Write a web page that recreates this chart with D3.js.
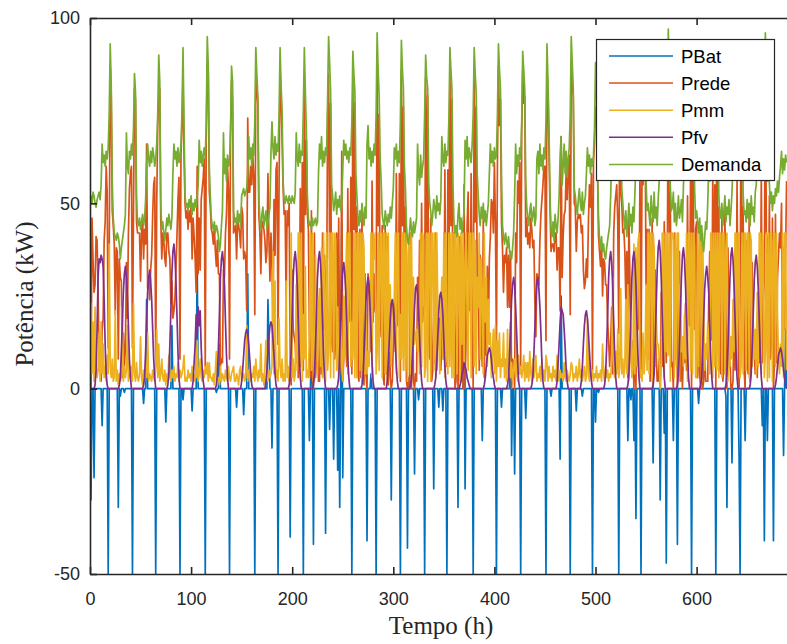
<!DOCTYPE html>
<html>
<head>
<meta charset="utf-8">
<script src="https://cdn.jsdelivr.net/npm/d3@7"></script>
<style>
  html, body { margin: 0; padding: 0; background: #fff; overflow: hidden; }
  text { font-family: "Liberation Sans", Arial, Helvetica, sans-serif; }
</style>
</head>
<body>
<svg id="chart" width="787" height="644"></svg>
<script>
// Hourly power flows (kW), one row per day.
const PBat = [
  0,-30,0,0,-24,0,0,0,0,0,0,0,-10,0,0,0,0,0,-50,0,0,0,0,0,
  0,0,0,0,-32,0,-2,0,0,0,-1,0,0,0,0,0,0,0,-50,0,0,0,0,0,
  0,0,0,0,0,-4,0,0,24,0,0,0,0,0,0,0,0,-50,0,0,0,0,0,0,
  0,0,0,-9,0,0,0,0,0,17,0,0,0,0,0,0,0,-50,0,0,-3,0,0,0,
  0,0,0,0,0,-6,0,0,0,0,35,0,0,0,0,0,0,0,-50,0,0,0,0,0,
  0,0,0,0,0,-1,0,0,12,0,0,0,0,0,0,0,0,0,-50,0,0,0,0,0,
  0,-5,0,0,0,0,0,0,-7,0,0,0,31,0,0,0,0,0,0,-50,0,0,0,0,
  0,0,0,0,0,0,0,0,24,12,0,0,-16,0,0,0,0,0,-50,0,0,0,0,0,
  0,0,0,0,0,0,-40,0,0,0,0,0,0,0,0,0,0,0,0,-50,0,0,0,0,
  0,-14,0,10,0,-42,0,0,0,0,0,0,0,0,0,0,0,-39,0,0,0,-11,0,0,
  0,-19,0,0,0,-22,0,-32,0,45,-24,0,0,0,0,0,0,0,0,-50,0,0,0,0,
  0,0,0,0,0,0,0,0,0,0,-41,0,0,0,4,0,0,0,0,-50,0,0,0,0,
  0,0,0,0,0,0,0,0,0,0,-30,0,0,0,0,0,0,0,0,-50,0,0,0,0,
  0,0,-43,0,0,0,0,0,0,-23,0,0,0,-3,0,0,0,0,0,-50,0,0,0,0,
  0,0,0,0,-27,0,0,0,0,-5,0,0,0,-6,0,0,0,-50,0,0,0,0,0,0,
  0,0,0,0,-32,0,0,0,0,0,19,-27,0,0,0,0,0,0,0,-50,0,0,0,0,
  0,0,0,0,-14,0,0,0,0,0,0,0,0,0,0,0,0,0,-50,0,0,0,0,-5,
  0,0,0,0,0,0,0,0,18,-18,0,0,-23,0,0,0,0,0,-50,0,0,0,0,-8,
  0,0,0,0,0,0,0,0,0,0,0,0,0,0,0,0,0,0,0,-50,0,0,0,0,
  -2,0,0,0,0,0,0,0,0,-19,25,0,0,0,0,0,0,0,0,-50,0,0,0,0,
  0,-6,0,0,0,0,0,-2,0,0,0,0,0,0,0,0,0,-50,0,0,-9,0,0,-1,
  0,0,0,0,0,0,0,0,0,0,0,0,0,0,0,0,0,0,0,-50,0,0,0,0,
  0,0,0,0,-14,0,0,-3,0,0,-14,0,-35,0,0,0,0,-50,0,0,0,0,0,0,
  0,0,0,0,0,-20,0,0,0,0,0,0,-30,0,0,0,-12,0,-47,0,0,0,0,0,
  0,-14,0,0,0,-42,0,0,0,0,0,0,0,0,0,0,0,0,0,-50,0,0,0,0,
  0,0,-4,0,0,0,0,0,0,0,0,0,0,0,0,0,0,0,0,-50,0,0,0,0,
  0,0,0,0,0,-2,-32,0,0,0,0,-20,0,0,0,0,0,0,-18,-50,0,0,0,0,
  -14,0,0,0,0,0,0,0,0,0,0,0,0,0,0,0,0,-10,0,-41,0,0,-14,0,
  0,0,0,0,-41,0,0,0,0,0,0,0,0,0,-18,0,16,0
];

const Prede = [
  43,0,46,35,26,28,41,40,27,5,13,2,16,19,40,45,60,53,11,35,87,79,48,44,
  39,20,38,37,8,35,30,29,3,15,6,11,34,19,42,54,58,60,11,47,81,78,45,42,
  42,42,29,42,46,35,43,39,66,27,30,24,32,36,47,55,57,6,50,71,78,81,46,35,
  42,40,35,33,42,42,37,35,23,29,19,21,24,32,41,51,57,8,63,71,83,63,50,46,
  48,43,48,45,50,35,46,41,35,26,60,31,46,32,51,54,57,62,6,68,88,85,53,49,
  43,42,39,44,37,33,40,31,31,6,8,7,32,30,42,47,60,54,8,68,83,78,42,43,
  44,35,45,44,42,38,49,47,35,37,35,21,73,53,53,60,55,63,57,20,84,81,77,47,
  42,31,45,45,43,40,34,37,58,40,29,42,34,16,51,36,59,61,12,55,86,79,67,54,
  47,48,23,48,44,50,5,1,32,16,14,12,7,31,3,18,54,22,61,5,84,47,67,47,
  43,15,3,48,4,0,42,3,7,14,2,2,22,4,42,16,36,24,21,73,85,35,77,13,
  10,26,8,13,42,7,46,4,14,64,2,8,24,12,6,54,18,23,57,4,83,43,77,16,
  49,4,2,43,3,48,4,1,31,4,0,31,28,24,10,56,18,31,21,20,86,44,74,20,
  14,44,3,1,44,4,41,1,24,3,0,2,12,23,10,58,17,22,58,2,86,44,76,18,
  49,2,0,3,0,42,0,28,2,0,4,2,30,17,40,16,50,18,22,21,84,42,79,14,
  8,46,2,5,19,7,42,5,14,12,19,5,14,30,8,59,18,6,59,31,86,44,78,13,
  42,0,2,37,0,12,41,3,27,0,55,0,14,44,53,22,21,58,24,0,86,45,76,28,
  30,5,36,14,6,46,3,28,9,33,16,35,41,51,50,42,61,45,11,61,87,71,78,45,
  38,26,36,34,38,22,36,22,37,0,8,7,0,42,34,56,50,61,6,69,86,77,79,41,
  46,39,42,38,46,43,38,40,24,14,31,30,28,40,47,51,55,60,60,13,86,81,64,49,
  37,39,39,37,42,42,32,38,38,21,68,30,41,47,48,59,51,59,63,20,88,82,79,50,
  49,37,45,47,46,47,42,44,32,27,29,35,30,45,55,49,58,5,61,66,76,76,58,41,
  37,33,39,25,35,34,28,28,18,13,6,12,22,4,42,49,52,55,45,15,83,53,50,42,
  43,37,24,37,3,47,30,11,13,11,0,14,0,35,18,16,60,3,60,55,86,74,28,43,
  8,43,2,10,46,0,14,32,10,2,2,8,0,26,6,9,45,18,7,33,88,42,53,6,
  7,0,42,8,38,0,9,37,2,12,0,11,7,23,5,52,21,17,57,0,86,40,16,43,
  45,3,32,4,0,41,0,2,11,2,2,2,24,37,13,14,60,15,55,0,83,38,49,5,
  4,47,2,6,48,5,0,38,13,9,0,0,2,20,5,11,56,16,0,17,83,39,49,5,
  0,40,9,4,47,2,11,34,14,10,4,15,3,26,7,12,58,7,23,30,86,42,40,20,
  52,8,13,46,0,8,47,7,30,36,42,38,50,11,38,16,37,56
];

const Pmm = [
  8,23,4,18,2,22,6,3,5,15,2,18,4,12,3,6,2,9,4,39,6,3,8,2,
  3,21,2,5,1,4,2,3,22,2,6,3,5,17,2,4,3,6,2,23,4,2,7,3,
  2,4,14,3,1,5,2,6,3,15,2,4,3,2,5,3,2,6,16,3,12,2,4,8,
  3,2,5,1,4,2,9,3,2,5,3,6,2,4,3,7,2,5,3,4,6,9,2,3,
  2,5,3,4,2,6,3,2,4,3,13,2,4,8,3,2,5,3,6,4,7,2,7,3,
  3,2,4,1,5,10,2,3,1,6,2,4,3,2,5,3,2,6,3,2,4,5,6,2,
  2,4,3,1,5,6,2,3,4,2,3,17,2,5,3,2,4,3,6,2,8,4,2,5,
  3,12,2,4,1,6,13,3,2,5,3,4,6,37,4,29,3,5,2,19,6,3,8,2,
  4,2,29,3,6,2,5,42,3,8,2,4,28,5,42,42,6,42,2,20,8,33,3,5,
  3,15,42,5,42,2,2,36,20,4,22,27,6,38,3,42,24,2,42,5,10,42,3,42,
  42,3,42,40,5,22,2,10,18,6,2,25,8,30,42,4,42,42,6,18,8,42,3,42,
  3,42,42,5,42,2,42,38,4,20,4,10,6,20,42,3,42,35,42,4,10,42,5,42,
  42,3,42,42,4,42,2,42,10,28,6,24,20,25,42,4,42,42,3,20,8,42,5,42,
  5,42,2,36,42,4,42,8,30,12,14,16,10,18,4,42,6,42,40,3,6,42,2,42,
  42,2,42,42,5,42,3,42,22,14,4,20,30,8,42,3,42,8,4,42,6,42,3,42,
  3,42,42,4,42,38,2,42,12,42,6,34,42,20,5,42,42,3,42,42,6,40,4,30,
  22,42,8,35,26,4,42,18,30,6,24,12,15,3,10,16,4,17,2,13,6,15,3,8,
  6,15,3,8,2,16,4,10,3,7,2,5,8,3,12,2,9,4,6,3,5,9,2,7,
  3,7,2,10,4,2,8,3,5,9,2,4,3,6,2,8,3,5,2,9,7,2,6,3,
  4,2,6,3,5,2,9,3,2,5,3,4,2,7,3,2,5,3,2,4,7,6,2,4,
  3,6,2,4,8,3,5,2,4,6,2,3,19,4,2,7,3,5,2,4,3,6,2,4,
  3,5,2,12,4,2,6,3,5,2,4,3,8,30,5,3,10,4,16,3,6,27,4,8,
  3,6,24,4,28,2,8,17,3,5,39,4,38,6,39,42,3,5,2,15,4,8,28,5,
  42,4,42,42,2,42,38,6,20,12,12,8,0,5,42,42,3,42,10,42,9,42,2,42,
  42,40,3,42,6,42,42,2,28,10,14,6,20,8,42,2,42,42,5,42,4,42,38,3,
  3,42,6,42,42,2,42,20,5,12,8,18,12,4,42,42,3,42,6,42,5,42,3,42,
  42,3,42,42,4,38,42,2,20,6,14,8,24,10,42,42,5,42,42,3,6,42,4,42,
  42,5,42,42,3,42,40,6,18,8,16,4,26,6,42,42,4,42,38,3,10,42,2,42,
  3,42,40,2,42,42,6,42,20,8,4,12,6,42,3,42,42,5
];

const Pfv = [
  0,0,0,0,0,1,5,16,30,35,34,36,35,33,24,12,4,1,0,0,0,0,0,0,
  0,0,0,0,0,1,3,10,18,26,31,33,30,25,17,8,3,0,0,0,0,0,0,0,
  0,0,0,0,0,1,3,10,18,26,30,32,29,24,16,8,3,0,0,0,0,0,0,0,
  0,0,0,0,0,1,4,12,21,31,37,39,36,29,20,10,3,0,0,0,0,0,0,0,
  0,0,0,0,0,0,2,7,12,20,14,22,17,21,11,5,2,0,0,0,0,0,0,0,
  0,0,0,0,0,1,4,11,20,30,35,37,34,28,18,9,3,0,0,0,0,0,0,0,
  0,0,0,0,0,0,2,5,9,13,15,16,15,12,8,4,1,0,0,0,0,0,0,0,
  0,0,0,0,0,0,2,5,10,14,17,18,17,13,9,4,1,0,0,0,0,0,0,0,
  0,0,0,0,0,1,4,11,20,30,35,37,34,28,18,9,3,0,0,0,0,0,0,0,
  0,0,0,0,0,1,4,11,20,30,35,37,34,28,18,9,3,0,0,0,0,0,0,0,
  0,0,0,0,0,1,3,10,19,27,32,34,31,26,17,8,3,0,0,0,0,0,0,0,
  0,0,0,0,0,1,3,9,16,24,28,30,28,22,15,7,2,0,0,0,0,0,0,0,
  0,0,0,0,0,0,2,7,13,19,23,24,22,18,12,6,2,0,0,0,0,0,0,0,
  0,0,0,0,0,1,3,8,15,22,27,28,26,21,14,7,2,0,0,0,0,0,0,0,
  0,0,0,0,0,1,3,8,14,21,25,26,24,20,13,6,2,0,0,0,0,0,0,0,
  0,0,0,0,0,0,1,2,4,5,7,6,5,3,2,1,0,0,0,0,0,0,0,0,
  0,0,0,0,0,0,1,3,6,9,10,11,10,8,5,3,1,0,0,0,0,0,0,0,
  0,0,0,0,0,1,3,9,16,24,28,30,28,22,15,7,2,0,0,0,0,0,0,0,
  0,0,0,0,0,1,3,9,16,24,29,30,27,22,15,7,2,0,0,0,0,0,0,0,
  0,0,0,0,0,0,2,7,12,18,22,21,20,16,11,5,2,0,0,0,0,0,0,0,
  0,0,0,0,0,0,2,6,12,17,20,21,19,15,10,5,2,0,0,0,0,0,0,0,
  0,0,0,0,0,1,4,11,20,30,35,37,34,28,18,9,3,0,0,0,0,0,0,0,
  0,0,0,0,1,4,11,20,30,35,37,34,28,18,9,3,0,0,0,0,0,0,0,0,
  0,0,0,0,0,1,4,12,22,32,38,40,37,30,20,10,3,0,0,0,0,0,0,0,
  0,0,0,0,0,1,4,11,21,30,36,38,35,28,19,10,3,0,0,0,0,0,0,0,
  0,0,0,0,1,3,10,19,27,31,33,30,26,17,8,3,0,0,0,0,0,0,0,0,
  0,0,0,0,0,1,4,11,21,30,36,38,35,28,19,10,3,0,0,0,0,0,0,0,
  0,0,0,0,0,1,4,11,20,29,34,36,33,27,18,9,3,0,0,0,0,0,0,0,
  0,0,0,0,0,0,1,3,6,9,10,11,10,8,5,3,1,0
];

const Demanda = [
  51,52,50,53,52,50,49,51,52,53,51,55,66,61,63,60,64,62,65,74,93,82,56,46,
  42,41,40,42,41,39,35,38,40,42,44,47,69,60,58,64,62,66,63,70,85,80,52,45,
  44,46,43,45,47,44,46,51,60,66,62,60,64,61,65,63,60,62,66,74,90,83,50,43,
  45,42,40,43,46,44,47,45,43,46,58,66,62,64,60,65,61,63,66,75,92,72,52,49,
  50,48,51,49,52,47,50,48,51,49,52,55,67,61,64,60,63,65,62,72,95,87,60,52,
  46,44,43,45,42,44,43,41,37,39,44,48,69,58,62,56,63,60,61,70,87,83,48,45,
  46,44,48,45,47,44,52,53,54,52,53,54,58,68,62,65,60,66,63,72,92,85,79,52,
  45,43,47,49,44,46,48,43,45,47,49,64,72,65,62,68,63,66,64,74,92,82,75,56,
  51,50,52,51,50,52,51,50,52,51,50,53,69,62,60,66,61,64,63,75,92,80,70,52,
  46,44,45,43,46,44,45,46,44,45,58,66,62,68,60,64,61,65,63,78,95,88,80,55,
  52,48,50,53,47,51,49,52,48,50,59,67,63,66,62,64,61,65,63,72,91,85,80,58,
  52,46,44,48,45,50,47,44,49,46,66,71,62,65,60,64,61,66,63,74,96,86,79,62,
  56,47,45,43,48,46,44,47,45,49,46,50,54,65,62,66,60,64,61,72,94,86,81,60,
  54,44,40,39,42,46,43,41,45,42,44,46,66,58,55,63,57,60,62,74,90,84,81,56,
  50,48,44,47,51,49,46,52,48,50,47,51,68,62,60,66,61,64,63,73,92,86,81,55,
  45,42,44,41,47,50,43,46,42,45,48,67,62,68,60,65,63,61,66,74,92,85,80,58,
  52,47,44,49,46,50,45,48,44,47,50,58,66,61,64,60,65,62,63,74,93,86,81,58,
  44,41,39,42,40,38,41,37,36,35,38,42,52,66,58,63,60,65,62,72,91,86,81,56,
  49,46,44,48,50,45,47,49,44,46,62,64,58,66,60,63,59,65,62,72,93,83,70,52,
  43,41,45,40,47,44,42,46,52,63,68,55,60,66,58,64,57,62,65,74,95,88,81,54,
  52,49,47,51,54,50,48,53,47,50,52,58,65,60,63,58,62,60,63,70,88,82,60,46,
  40,38,41,37,39,36,35,38,40,42,44,52,64,60,62,58,63,59,61,68,89,80,54,50,
  46,43,48,41,45,50,44,47,42,49,45,53,62,58,64,60,63,58,62,70,90,82,56,48,
  50,47,44,52,48,45,53,46,49,44,51,56,63,60,65,58,62,60,64,75,97,84,55,48,
  49,53,45,50,44,47,52,46,48,51,45,55,62,58,63,60,64,59,62,72,90,82,54,46,
  48,45,42,46,40,44,39,37,41,45,43,50,60,56,62,58,63,57,61,70,88,80,52,47,
  46,50,44,48,52,45,49,47,51,44,48,53,61,57,63,59,62,58,60,70,89,81,53,47,
  48,45,51,46,50,44,52,47,49,45,53,55,62,58,64,60,63,59,61,74,96,84,56,62,
  55,50,53,48,52,50,54,52,56,53,57,60,64,58,62,59,63,61
];

const seriesNames = ["PBat", "Prede", "Pmm", "Pfv", "Demanda"];
const seriesValues = [PBat, Prede, Pmm, Pfv, Demanda];
const seriesColors = ["#0072BD", "#D95319", "#EDB120", "#7E2F8E", "#77AC30"];
const xTickValues = [0, 100, 200, 300, 400, 500, 600];
const yTickValues = [-50, 0, 50, 100];

const svg = d3.select("#chart");
const axisColor = "#262626";

const x = d3.scaleLinear().domain([0, 690]).range([90, 787.6]);
const y = d3.scaleLinear().domain([-50, 100]).range([574, 18]);

// clip the traces to the axes box
svg.append("defs").append("clipPath").attr("id", "plot-clip")
  .append("rect")
  .attr("x", x(0)).attr("y", y(100))
  .attr("width", x(690) - x(0)).attr("height", y(-50) - y(100));

const line = d3.line()
  .x((d, i) => x(i))
  .y(d => y(d));

const traces = svg.append("g").attr("clip-path", "url(#plot-clip)");
seriesValues.forEach((vals, k) => {
  traces.append("path")
    .datum(vals)
    .attr("d", line)
    .attr("fill", "none")
    .attr("stroke", seriesColors[k])
    .attr("stroke-width", 1.7)
    .attr("stroke-linejoin", "round");
});

// axes: ticks point inward like a boxed plot
const plainNumber = d => String(d);

function styleAxis(g) {
  g.attr("font-family", null).attr("font-size", null);
  g.selectAll("path.domain").attr("stroke", axisColor).attr("stroke-width", 1.6);
  g.selectAll(".tick line").attr("stroke", axisColor).attr("stroke-width", 1.6);
  g.selectAll(".tick text")
    .attr("fill", axisColor)
    .style("font-family", '"Liberation Sans", Arial, sans-serif')
    .style("font-size", "18px");
}

svg.append("g")
  .attr("transform", `translate(0,${y(-50)})`)
  .call(d3.axisBottom(x).tickValues(xTickValues).tickFormat(plainNumber)
    .tickSizeInner(-7).tickSizeOuter(0).tickPadding(18))
  .call(styleAxis);

svg.append("g")
  .attr("transform", `translate(0,${y(100)})`)
  .call(d3.axisTop(x).tickValues(xTickValues).tickSizeInner(-7).tickSizeOuter(0).tickFormat(""))
  .call(styleAxis);

svg.append("g")
  .attr("transform", `translate(${x(0)},0)`)
  .call(d3.axisLeft(y).tickValues(yTickValues).tickFormat(plainNumber)
    .tickSizeInner(-7).tickSizeOuter(0).tickPadding(10))
  .call(styleAxis);

// axis titles
svg.append("text")
  .attr("x", 441).attr("y", 634)
  .attr("text-anchor", "middle")
  .attr("fill", axisColor)
  .style("font-family", '"Liberation Serif", "Times New Roman", serif')
  .style("font-size", "25px")
  .text("Tempo (h)");

svg.append("text")
  .attr("transform", "translate(33,294) rotate(-90)")
  .attr("text-anchor", "middle")
  .attr("fill", axisColor)
  .style("font-family", '"Liberation Serif", "Times New Roman", serif')
  .style("font-size", "25px")
  .text("Potência (kW)");

// legend
const legend = svg.append("g");
legend.append("rect")
  .attr("x", 596.5).attr("y", 39.5)
  .attr("width", 178).attr("height", 141)
  .attr("fill", "#fff")
  .attr("stroke", axisColor)
  .attr("stroke-width", 1.2);

seriesNames.forEach((name, k) => {
  const ly = 56 + k * 27.1;
  legend.append("line")
    .attr("x1", 609).attr("x2", 673)
    .attr("y1", ly).attr("y2", ly)
    .attr("stroke", seriesColors[k])
    .attr("stroke-width", 1.5);
  legend.append("text")
    .attr("x", 681).attr("y", ly)
    .attr("dy", "0.36em")
    .attr("fill", "#000")
    .style("font-size", "18.5px")
    .text(name);
});
</script>
</body>
</html>
